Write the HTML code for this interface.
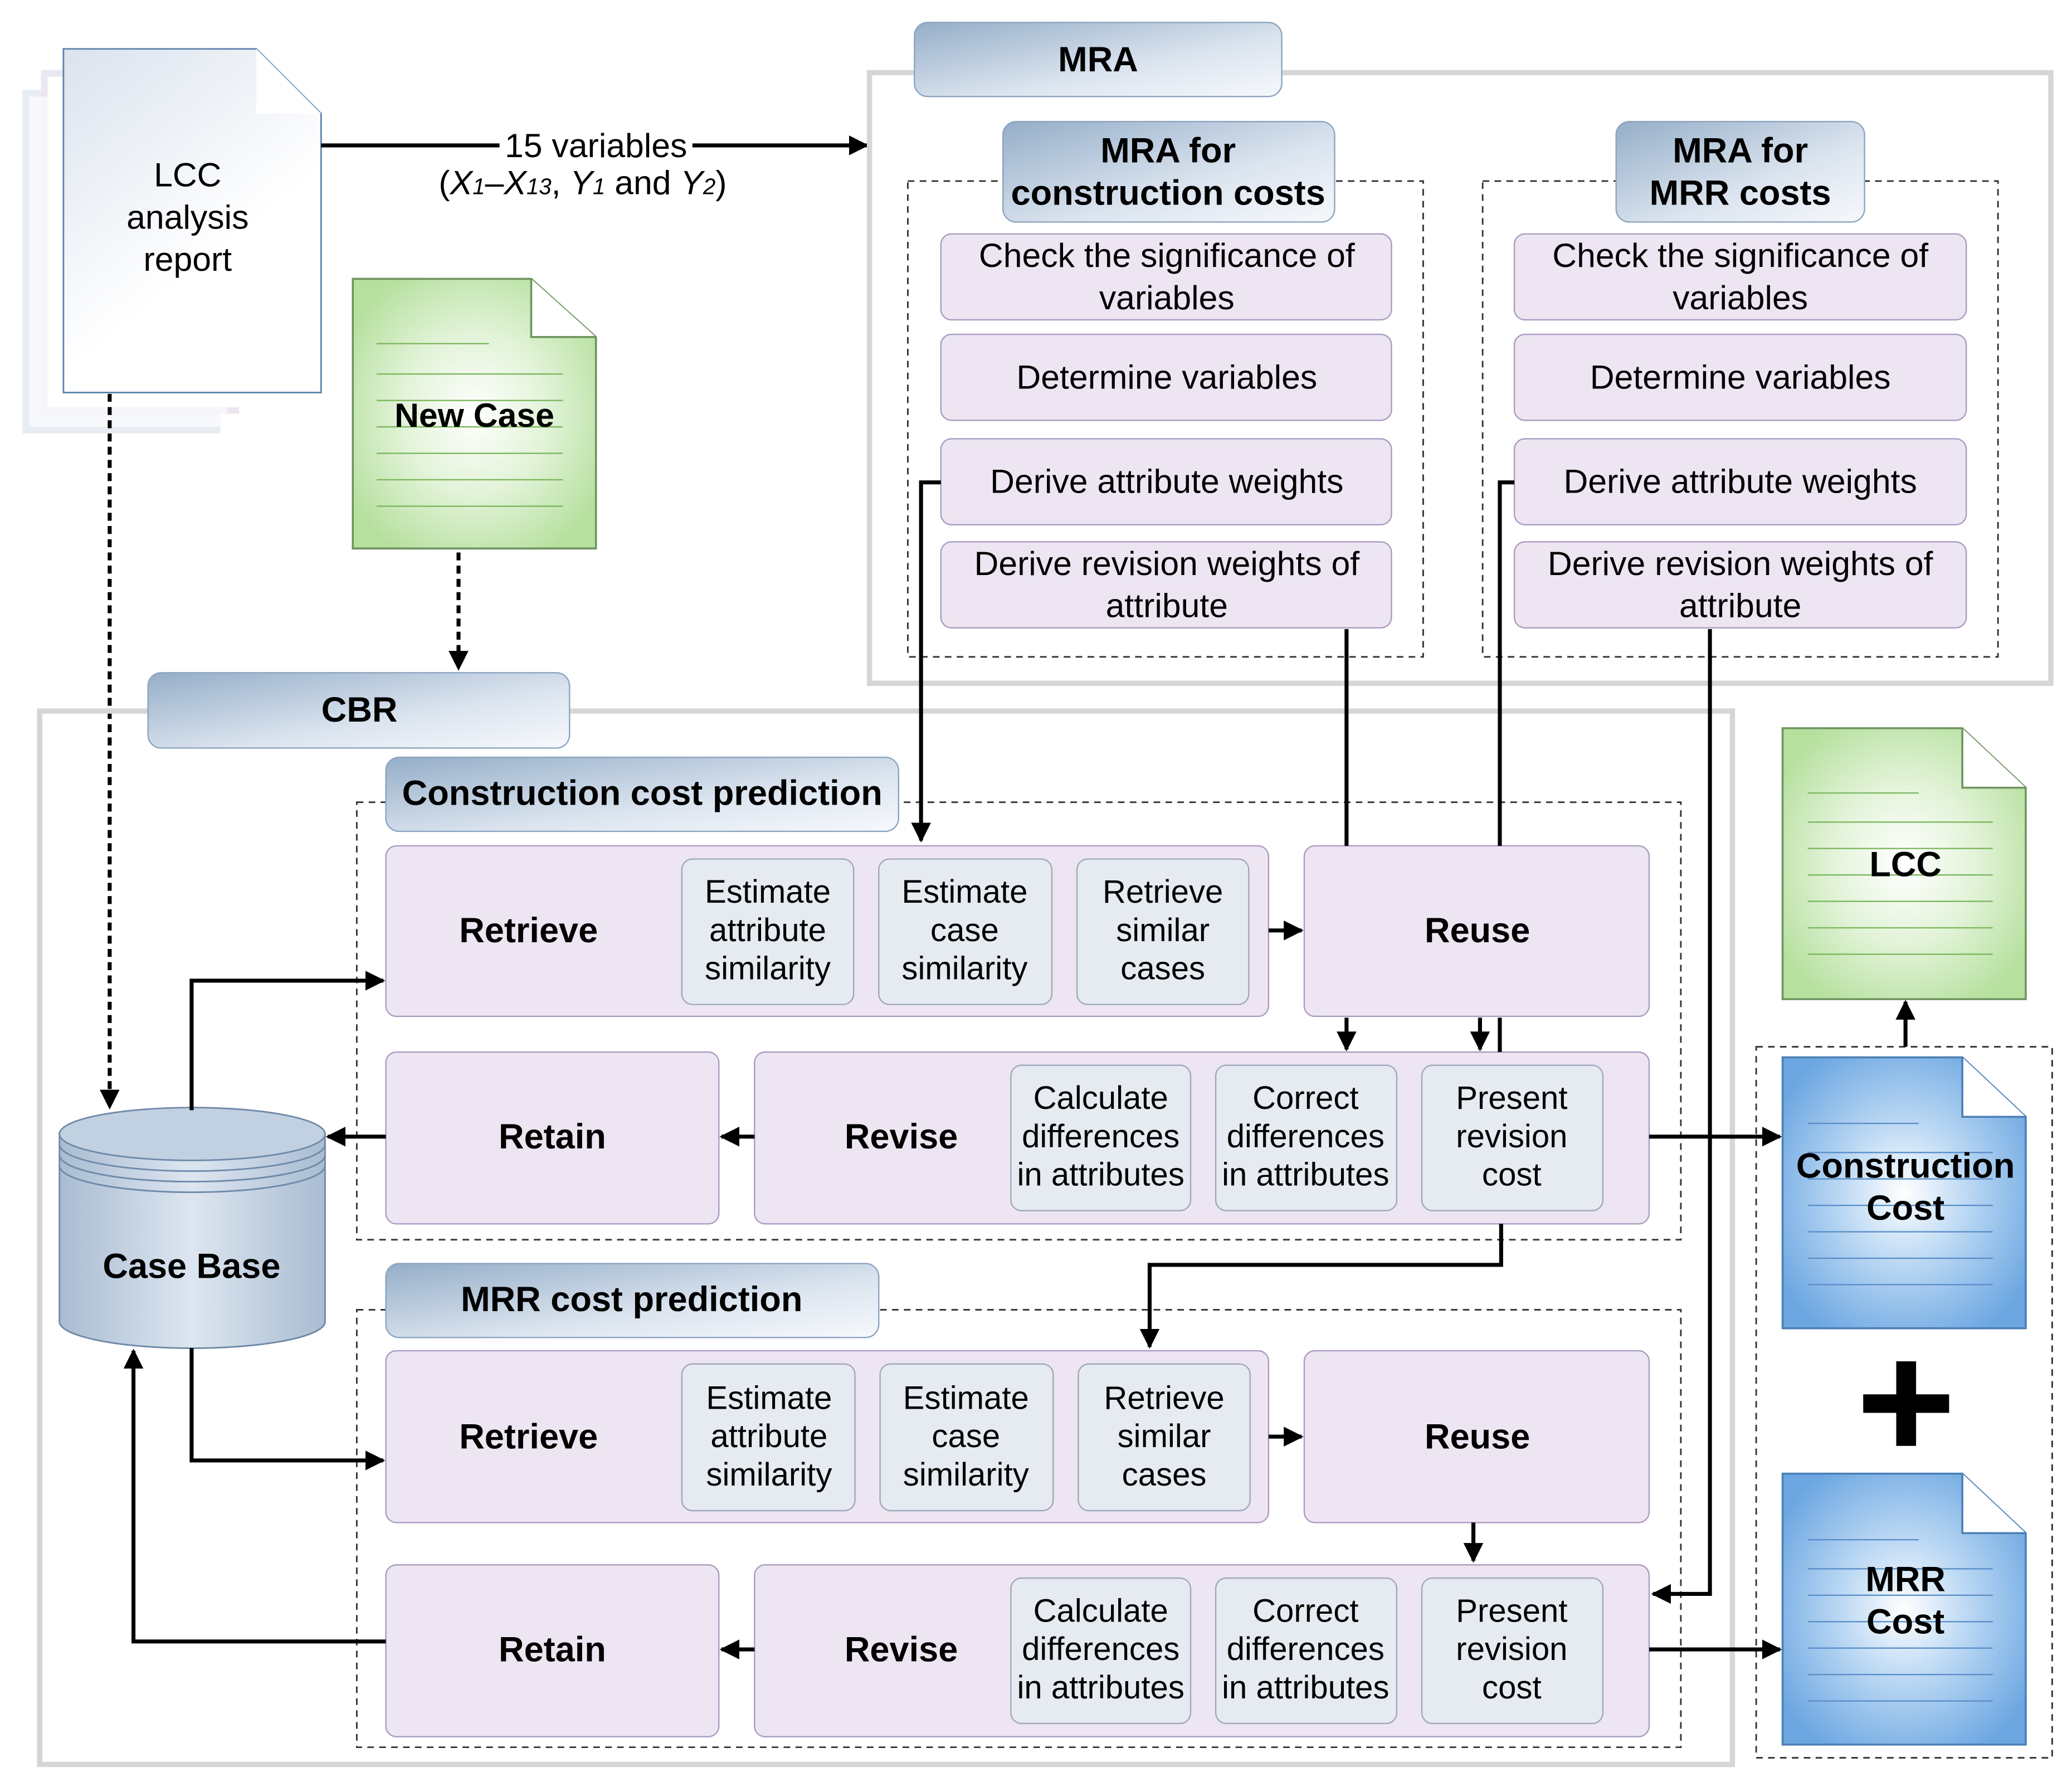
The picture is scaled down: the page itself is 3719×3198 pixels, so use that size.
<!DOCTYPE html>
<html><head><meta charset="utf-8"><style>html,body{margin:0;padding:0;background:#fff}svg{display:block}</style></head><body>
<svg width="3719" height="3198" viewBox="0 0 1568 1348.3" preserveAspectRatio="none" xmlns="http://www.w3.org/2000/svg" font-family="Liberation Sans, sans-serif">
<defs>
<linearGradient id="tab" x1="0" y1="0" x2="1" y2="1"><stop offset="0" stop-color="#95aec8"/><stop offset="0.6" stop-color="#dbe4ef"/><stop offset="1" stop-color="#f6f9fc"/></linearGradient>
<linearGradient id="rep" x1="0" y1="0" x2="0.6" y2="1"><stop offset="0" stop-color="#dbe3ee"/><stop offset="0.7" stop-color="#ffffff"/></linearGradient>
<radialGradient id="grn" cx="0.5" cy="0.5" r="0.6"><stop offset="0" stop-color="#ffffff"/><stop offset="0.5" stop-color="#e2f3d8"/><stop offset="1" stop-color="#b6e09e"/></radialGradient>
<radialGradient id="blu" cx="0.5" cy="0.5" r="0.6"><stop offset="0" stop-color="#ffffff"/><stop offset="0.45" stop-color="#b9d7f3"/><stop offset="1" stop-color="#6da7e2"/></radialGradient>
<linearGradient id="cyl" x1="0" y1="0" x2="1" y2="0"><stop offset="0" stop-color="#a9bcd2"/><stop offset="0.5" stop-color="#dde6f0"/><stop offset="1" stop-color="#a9bcd2"/></linearGradient>
<marker id="a" viewBox="0 0 10 10" refX="9" refY="5" markerWidth="5" markerHeight="5" orient="auto"><path d="M0,0L10,5L0,10z" fill="#000"/></marker>
</defs>
<rect x="17" y="68" width="150" height="260" fill="#e8edf4"/>
<rect x="31" y="53" width="150" height="260" fill="#ece6f1"/>
<rect x="36" y="58" width="150" height="250" fill="#fff"/>
<rect x="22" y="73" width="150" height="250" fill="#fff" opacity="0.6"/>
<path d="M48,37H194L243,86V297H48Z" fill="url(#rep)" stroke="#5b85ad" stroke-width="1.2"/>
<path d="M194,37V86H243" fill="#fff"/>
<text x="142" y="141" font-size="25.6" text-anchor="middle">LCC</text>
<text x="142" y="173" font-size="25.6" text-anchor="middle">analysis</text>
<text x="142" y="205" font-size="25.6" text-anchor="middle">report</text>
<line x1="243" y1="110" x2="656" y2="110" stroke="#000" stroke-width="3" marker-end="url(#a)"/>
<rect x="378" y="96" width="146" height="26" fill="#fff"/>
<text x="451" y="119" font-size="25.6" text-anchor="middle">15 variables</text>
<text x="441" y="147" font-size="25.6" text-anchor="middle">(<tspan font-style="italic">X</tspan><tspan font-style="italic" font-size="17">1</tspan>–<tspan font-style="italic">X</tspan><tspan font-style="italic" font-size="17">13</tspan>, <tspan font-style="italic">Y</tspan><tspan font-style="italic" font-size="17">1</tspan> and <tspan font-style="italic">Y</tspan><tspan font-style="italic" font-size="17">2</tspan>)</text>
<path d="M267,211H402L451,255V415H267Z" fill="url(#grn)" stroke="#6e9460" stroke-width="1.5"/>
<path d="M402,211V255H451" fill="#fff" stroke="#6e9460" stroke-width="1.5"/>
<g stroke="#7bb85e" stroke-width="1"><line x1="285" y1="260" x2="370" y2="260"/><line x1="285" y1="283" x2="426" y2="283"/><line x1="285" y1="303" x2="426" y2="303"/><line x1="285" y1="323" x2="426" y2="323"/><line x1="285" y1="343" x2="426" y2="343"/><line x1="285" y1="363" x2="426" y2="363"/><line x1="285" y1="383" x2="426" y2="383"/></g>
<text x="359" y="323" font-size="25.6" font-weight="bold" text-anchor="middle">New Case</text>
<line x1="347" y1="418" x2="347" y2="506" stroke="#000" stroke-width="3" stroke-dasharray="6,4" marker-end="url(#a)"/>
<line x1="83" y1="298" x2="83" y2="838" stroke="#000" stroke-width="3" stroke-dasharray="6,4" marker-end="url(#a)"/>
<rect x="658" y="55" width="894" height="462" fill="none" stroke="#d6d6d6" stroke-width="4"/>
<rect x="692" y="17" width="278" height="56" rx="10" fill="url(#tab)" stroke="#8da4bf"/>
<text x="831" y="54" font-size="26.6" font-weight="bold" text-anchor="middle">MRA</text>
<g fill="none" stroke="#333" stroke-width="1.2" stroke-dasharray="5,4"><rect x="687" y="137" width="390" height="360"/><rect x="1122" y="137" width="390" height="360"/></g>
<rect x="759" y="92" width="251" height="76" rx="10" fill="url(#tab)" stroke="#8da4bf"/>
<text x="884" y="123" font-size="26.6" font-weight="bold" text-anchor="middle">MRA for</text>
<text x="884" y="155" font-size="26.6" font-weight="bold" text-anchor="middle">construction costs</text>
<rect x="1223" y="92" width="188" height="76" rx="10" fill="url(#tab)" stroke="#8da4bf"/>
<text x="1317" y="123" font-size="26.6" font-weight="bold" text-anchor="middle">MRA for</text>
<text x="1317" y="155" font-size="26.6" font-weight="bold" text-anchor="middle">MRR costs</text>
<g fill="#ede6f2" stroke="#a99bc0" stroke-width="1">
<rect x="712" y="177" width="341" height="65" rx="8"/><rect x="712" y="253" width="341" height="65" rx="8"/><rect x="712" y="332" width="341" height="65" rx="8"/><rect x="712" y="410" width="341" height="65" rx="8"/>
<rect x="1146" y="177" width="342" height="65" rx="8"/><rect x="1146" y="253" width="342" height="65" rx="8"/><rect x="1146" y="332" width="342" height="65" rx="8"/><rect x="1146" y="410" width="342" height="65" rx="8"/>
</g>
<g font-size="25.6" text-anchor="middle">
<text x="883" y="202">Check the significance of</text><text x="883" y="234">variables</text>
<text x="883" y="294">Determine variables</text>
<text x="883" y="373">Derive attribute weights</text>
<text x="883" y="435">Derive revision weights of</text><text x="883" y="467">attribute</text>
<text x="1317" y="202">Check the significance of</text><text x="1317" y="234">variables</text>
<text x="1317" y="294">Determine variables</text>
<text x="1317" y="373">Derive attribute weights</text>
<text x="1317" y="435">Derive revision weights of</text><text x="1317" y="467">attribute</text>
</g>
<rect x="30" y="538" width="1281" height="797" fill="none" stroke="#d6d6d6" stroke-width="4"/>
<rect x="112" y="509" width="319" height="57" rx="10" fill="url(#tab)" stroke="#8da4bf"/>
<text x="272" y="546" font-size="26.6" font-weight="bold" text-anchor="middle">CBR</text>
<g fill="none" stroke="#333" stroke-width="1.2" stroke-dasharray="5,4"><rect x="270" y="607" width="1002" height="331"/><rect x="270" y="991" width="1002" height="331"/></g>
<rect x="292" y="573" width="388" height="56" rx="10" fill="url(#tab)" stroke="#8da4bf"/>
<text x="486" y="609" font-size="26.6" font-weight="bold" text-anchor="middle">Construction cost prediction</text>
<rect x="292" y="956" width="373" height="56" rx="10" fill="url(#tab)" stroke="#8da4bf"/>
<text x="478" y="992" font-size="26.6" font-weight="bold" text-anchor="middle">MRR cost prediction</text>
<g fill="#ede6f2" stroke="#a99bc0" stroke-width="1">
<rect x="292" y="640" width="668" height="129" rx="8"/><rect x="987" y="640" width="261" height="129" rx="8"/>
<rect x="292" y="796" width="252" height="130" rx="8"/><rect x="571" y="796" width="677" height="130" rx="8"/>
<rect x="292" y="1022" width="668" height="130" rx="8"/><rect x="987" y="1022" width="261" height="130" rx="8"/>
<rect x="292" y="1184" width="252" height="130" rx="8"/><rect x="571" y="1184" width="677" height="130" rx="8"/>
</g>
<g fill="#e6eaf1" stroke="#a0a8b8" stroke-width="1">
<rect x="516" y="650" width="130" height="110" rx="8"/><rect x="665" y="650" width="131" height="110" rx="8"/><rect x="815" y="650" width="130" height="110" rx="8"/>
<rect x="765" y="806" width="136" height="110" rx="8"/><rect x="920" y="806" width="137" height="110" rx="8"/><rect x="1076" y="806" width="137" height="110" rx="8"/>
<rect x="516" y="1032" width="131" height="111" rx="8"/><rect x="666" y="1032" width="131" height="111" rx="8"/><rect x="816" y="1032" width="130" height="111" rx="8"/>
<rect x="765" y="1194" width="136" height="110" rx="8"/><rect x="920" y="1194" width="137" height="110" rx="8"/><rect x="1076" y="1194" width="137" height="110" rx="8"/>
</g>
<g font-size="26.6" font-weight="bold" text-anchor="middle">
<text x="400" y="713">Retrieve</text><text x="1118" y="713">Reuse</text><text x="418" y="869">Retain</text><text x="682" y="869">Revise</text>
<text x="400" y="1096">Retrieve</text><text x="1118" y="1096">Reuse</text><text x="418" y="1257">Retain</text><text x="682" y="1257">Revise</text>
</g>
<g font-size="24.5" text-anchor="middle">
<text x="581" y="683">Estimate</text><text x="581" y="712">attribute</text><text x="581" y="741">similarity</text>
<text x="730" y="683">Estimate</text><text x="730" y="712">case</text><text x="730" y="741">similarity</text>
<text x="880" y="683">Retrieve</text><text x="880" y="712">similar</text><text x="880" y="741">cases</text>
<text x="833" y="839">Calculate</text><text x="833" y="868">differences</text><text x="833" y="897">in attributes</text>
<text x="988" y="839">Correct</text><text x="988" y="868">differences</text><text x="988" y="897">in attributes</text>
<text x="1144" y="839">Present</text><text x="1144" y="868">revision</text><text x="1144" y="897">cost</text>
<text x="582" y="1066">Estimate</text><text x="582" y="1095">attribute</text><text x="582" y="1124">similarity</text>
<text x="731" y="1066">Estimate</text><text x="731" y="1095">case</text><text x="731" y="1124">similarity</text>
<text x="881" y="1066">Retrieve</text><text x="881" y="1095">similar</text><text x="881" y="1124">cases</text>
<text x="833" y="1227">Calculate</text><text x="833" y="1256">differences</text><text x="833" y="1285">in attributes</text>
<text x="988" y="1227">Correct</text><text x="988" y="1256">differences</text><text x="988" y="1285">in attributes</text>
<text x="1144" y="1227">Present</text><text x="1144" y="1256">revision</text><text x="1144" y="1285">cost</text>
</g>
<path d="M45,858V1000A100,20 0 0 0 246,1000V858Z" fill="url(#cyl)" stroke="#6f8aa8" stroke-width="1.2"/>
<ellipse cx="145.5" cy="858" rx="100.5" ry="20" fill="#c2d1e1" stroke="#6f8aa8" stroke-width="1.2"/>
<path d="M45,866A100,20 0 0 0 246,866M45,874A100,20 0 0 0 246,874M45,882A100,20 0 0 0 246,882" fill="none" stroke="#6f8aa8" stroke-width="1.2"/>
<text x="145" y="967" font-size="26.6" font-weight="bold" text-anchor="middle">Case Base</text>
<rect x="1329" y="792" width="224" height="538" fill="none" stroke="#333" stroke-width="1.2" stroke-dasharray="5,4"/>
<path d="M1349,551H1485L1533,596V756H1349Z" fill="url(#grn)" stroke="#6e9460" stroke-width="1.5"/>
<path d="M1485,551V596H1533" fill="#fff" stroke="#6e9460" stroke-width="1.5"/>
<g stroke="#7bb85e" stroke-width="1"><line x1="1368" y1="600" x2="1452" y2="600"/><line x1="1368" y1="622" x2="1508" y2="622"/><line x1="1368" y1="642" x2="1508" y2="642"/><line x1="1368" y1="662" x2="1508" y2="662"/><line x1="1368" y1="682" x2="1508" y2="682"/><line x1="1368" y1="702" x2="1508" y2="702"/><line x1="1368" y1="722" x2="1508" y2="722"/></g>
<text x="1442" y="663" font-size="26.6" font-weight="bold" text-anchor="middle">LCC</text>
<line x1="1442" y1="792" x2="1442" y2="758" stroke="#000" stroke-width="3" marker-end="url(#a)"/>
<path d="M1349,800H1485L1533,845V1005H1349Z" fill="url(#blu)" stroke="#4a7fb5" stroke-width="1.5"/>
<path d="M1485,800V845H1533" fill="#fff" stroke="#4a7fb5" stroke-width="1.5"/>
<g stroke="#5b8fc8" stroke-width="1"><line x1="1368" y1="850" x2="1452" y2="850"/><line x1="1368" y1="872" x2="1508" y2="872"/><line x1="1368" y1="892" x2="1508" y2="892"/><line x1="1368" y1="912" x2="1508" y2="912"/><line x1="1368" y1="932" x2="1508" y2="932"/><line x1="1368" y1="952" x2="1508" y2="952"/><line x1="1368" y1="972" x2="1508" y2="972"/></g>
<text x="1442" y="891" font-size="26.6" font-weight="bold" text-anchor="middle">Construction</text>
<text x="1442" y="923" font-size="26.6" font-weight="bold" text-anchor="middle">Cost</text>
<path d="M1349,1115H1485L1533,1160V1320H1349Z" fill="url(#blu)" stroke="#4a7fb5" stroke-width="1.5"/>
<path d="M1485,1115V1160H1533" fill="#fff" stroke="#4a7fb5" stroke-width="1.5"/>
<g stroke="#5b8fc8" stroke-width="1"><line x1="1368" y1="1165" x2="1452" y2="1165"/><line x1="1368" y1="1187" x2="1508" y2="1187"/><line x1="1368" y1="1207" x2="1508" y2="1207"/><line x1="1368" y1="1227" x2="1508" y2="1227"/><line x1="1368" y1="1247" x2="1508" y2="1247"/><line x1="1368" y1="1267" x2="1508" y2="1267"/><line x1="1368" y1="1287" x2="1508" y2="1287"/></g>
<text x="1442" y="1204" font-size="26.6" font-weight="bold" text-anchor="middle">MRR</text>
<text x="1442" y="1236" font-size="26.6" font-weight="bold" text-anchor="middle">Cost</text>
<rect x="1435" y="1030" width="15" height="64" fill="#000"/><rect x="1410" y="1055" width="65" height="14" fill="#000"/>
<g fill="none" stroke="#000" stroke-width="3">
<path d="M712,365H697V636" marker-end="url(#a)"/>
<path d="M1019,476V640"/>
<path d="M1146,365H1135V640"/>
<path d="M1019,770V794" marker-end="url(#a)"/>
<path d="M1120,770V794" marker-end="url(#a)"/>
<path d="M1135,770V796"/>
<path d="M1136,926V957H870V1019" marker-end="url(#a)"/>
<path d="M1294,476V1206H1251" marker-end="url(#a)"/>
<path d="M1115,1152V1181" marker-end="url(#a)"/>
<path d="M960,704H985" marker-end="url(#a)"/>
<path d="M960,1087H985" marker-end="url(#a)"/>
<path d="M571,860H546" marker-end="url(#a)"/>
<path d="M292,860H248" marker-end="url(#a)"/>
<path d="M571,1248H546" marker-end="url(#a)"/>
<path d="M292,1242H101V1022" marker-end="url(#a)"/>
<path d="M145,840V742H290" marker-end="url(#a)"/>
<path d="M145,1020V1105H290" marker-end="url(#a)"/>
<path d="M1248,860H1347" marker-end="url(#a)"/>
<path d="M1248,1248H1347" marker-end="url(#a)"/>
</g>
</svg>
</body></html>
